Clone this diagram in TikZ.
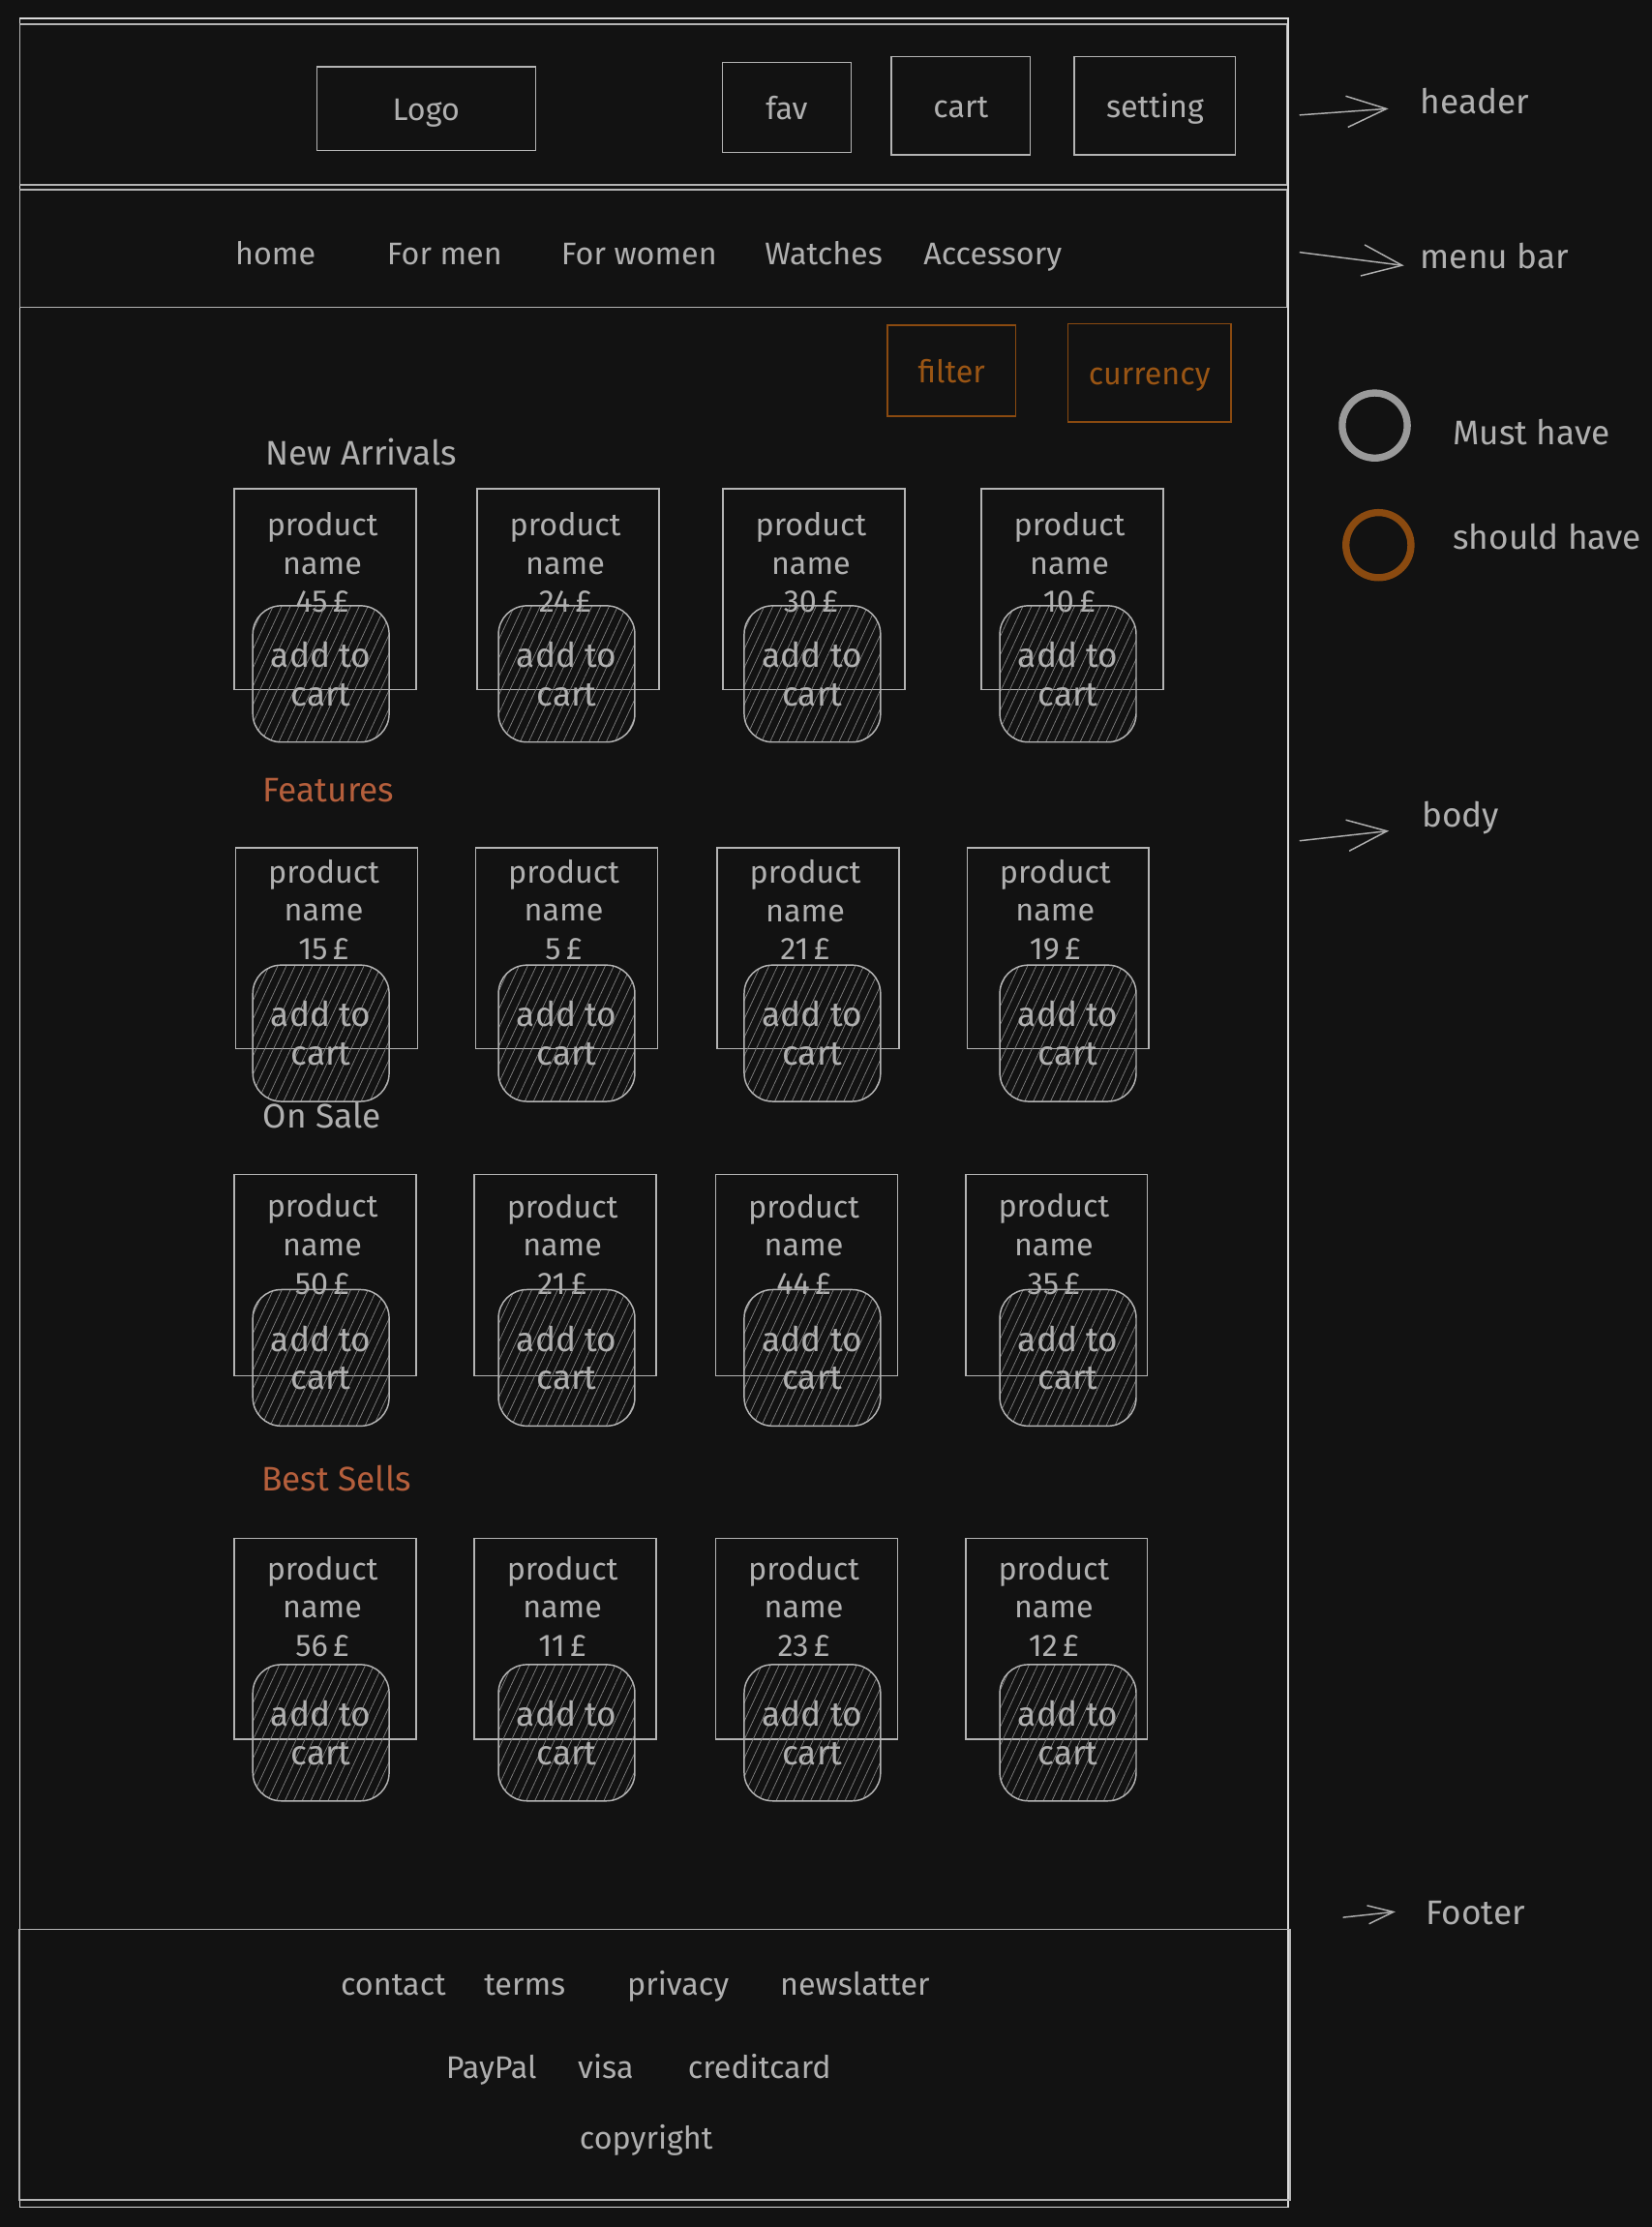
\documentclass[tikz,border=0pt]{standalone}
\usepackage{fontspec}
\setmainfont{Fira Sans}
\usetikzlibrary{arrows.meta,patterns.meta}
\definecolor{bg}{HTML}{121212}
\definecolor{framecol}{HTML}{DADADA}
\definecolor{line}{HTML}{B4B4B4}
\definecolor{ink}{HTML}{B0B0B0}
\definecolor{hatch}{HTML}{808080}
\definecolor{should}{HTML}{8A4A10}
\definecolor{shouldtxt}{HTML}{9A5514}
\definecolor{accent}{HTML}{B55F3C}
\definecolor{musthave}{HTML}{9A9A9A}
\begin{document}
\begin{tikzpicture}[x=1pt,y=-1pt,
  txt/.style={text=ink,inner sep=0pt,align=center,font=\fontsize{22}{27}\selectfont},
  word/.style={txt,text height=19pt,text depth=2pt},
  box/.style={draw=line,line width=1pt,inner sep=0pt},
  card/.style={box,minimum width=128pt,minimum height=141.5pt},
  btn/.style={box,txt,minimum width=96pt,minimum height=96pt,rounded corners=20pt,
    pattern={Lines[angle=65,distance=5.5pt,line width=0.5pt]},pattern color=hatch,
    font=\fontsize{24}{27}\selectfont},
  title/.style={word,anchor=west,font=\fontsize{24}{27}\selectfont},
  dot/.style={circle,line width=5pt,minimum size=45.8pt,inner sep=0pt},
  pointer/.style={draw=ink,line width=1pt,-{Straight Barb[length=28pt,width=22pt]}}]
\fill[bg] (0,0) rectangle (1163,1568);
\useasboundingbox (0,0) rectangle (1163,1568);
\node[box,draw=framecol,minimum width=893pt,minimum height=1541pt] (page) at (460.5,783.5) {};
\node[box,minimum width=892pt,minimum height=113pt] (header) at (460,73.5) {};
\node[box,word,minimum width=154pt,minimum height=59pt] (logo) at (300,76.5) {Logo};
\node[box,word,minimum width=90.5pt,minimum height=63.5pt] (fav) at (554,75.75) {fav};
\node[box,word,minimum width=98pt,minimum height=69pt] (cart) at (676.5,74.5) {cart};
\node[box,word,minimum width=113.5pt,minimum height=69pt] (setting) at (813.25,74.5) {setting};
\node[box,minimum width=892pt,minimum height=83pt] (menubar) at (460,175) {};
\foreach \x/\name/\label in {194/home/home,313/men/For men,450/women/For women,580/watches/Watches,699/accessory/Accessory}
  \node[word] (\name) at (\x,178) {\label};
\node[box,word,draw=should,text=shouldtxt,minimum width=90.5pt,minimum height=64pt] (filter) at (670,261) {filter};
\node[box,word,draw=should,text=shouldtxt,minimum width=114.7pt,minimum height=69pt] (currency) at (809.4,262.5) {currency};
\node[title] (newarrivals) at (187,319) {New Arrivals};
\node[title,text=accent] (features) at (185,555.8) {Features};
\node[title] (onsale) at (185,785.4) {On Sale};
\node[title,text=accent] (bestsells) at (184,1041) {Best Sells};
\foreach \r/\top/\dy/\by/\cards in {1/344/25/82.5/{165/45/178,336/24/351,509/30/524,691/10/704},
  2/597/16.5/82.5/{166/15/178,335/5/351,505/21/524,681/19/704},
  3/827/22/81/{165/50/178,334/21/351,504/44/524,680/35/704},
  4/1083/21/89/{165/56/178,334/11/351,504/23/524,680/12/704}}
  \foreach \x/\p/\bx [count=\k] in \cards {
    \node[card] (card-\r-\k) at (\x+64,\top+70.75) {};
    \node[txt] (info-\r-\k) at (\x+62,\top+\dy+27) {product\\name\\\p\,£};
    \node[btn] (btn-\r-\k) at (\bx+48,\top+\by+48) {add to\\cart};
  }
\node[box,minimum width=895pt,minimum height=190.5pt] (footer) at (461,1453.75) {};
\foreach \x/\y/\name/\label in {277/1396.6/contact/contact,369.5/1396.6/terms/terms,477.5/1396.6/privacy/privacy,602/1396.6/newsletter/newslatter,
  346/1454.6/paypal/PayPal,426.5/1454.6/visa/visa,534.75/1454.6/creditcard/creditcard,455/1504.5/copyright/copyright}
  \node[word] (\name) at (\x,\y) {\label};
\node[dot,draw=musthave] (must) at (968,299.6) {};
\node[dot,draw=should] (shouldhave) at (970.6,383.8) {};
\node[title] (mustlbl) at (1023,304.5) {Must have};
\node[title] (shouldlbl) at (1023,378) {should have};
\node[title] (headerlbl) at (1000,71.5) {header};
\node[title] (menulbl) at (1000,180.6) {menu bar};
\node[title] (bodylbl) at (1001,574) {body};
\node[title] (footerlbl) at (1004,1346.7) {Footer};
\coordinate (headertail) at (915,81);
\coordinate (menutail) at (915,177.6);
\coordinate (bodytail) at (915,592);
\coordinate (footertail) at (945.6,1350);
\draw[pointer] (headertail) -- ([shift={(-22.4,5)}]headerlbl.west);
\draw[pointer] (menutail) -- ([shift={(-11.4,6.4)}]menulbl.west);
\draw[pointer] (bodytail) -- ([shift={(-23,11)}]bodylbl.west);
\draw[pointer,-{Straight Barb[length=18pt,width=13pt]}] (footertail) -- ([shift={(-21.4,-0.7)}]footerlbl.west);
\end{tikzpicture}
\end{document}
